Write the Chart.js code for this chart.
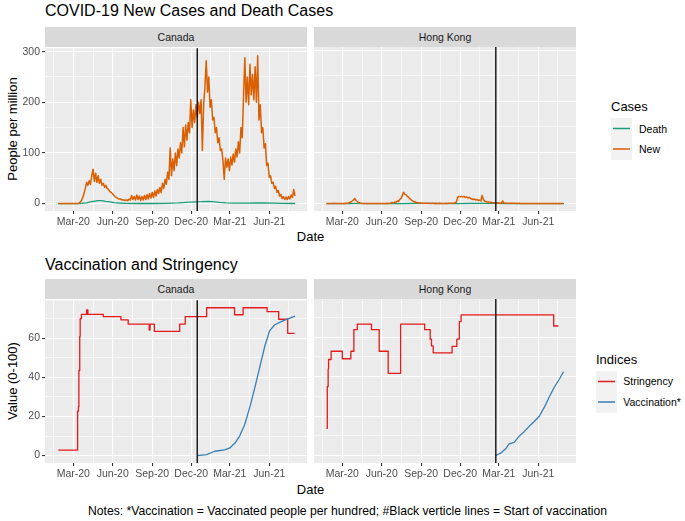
<!DOCTYPE html>
<html><head><meta charset="utf-8">
<script src="https://cdn.jsdelivr.net/npm/chart.js@4.4.1/dist/chart.umd.min.js"></script>
<style>
html,body{margin:0;padding:0;background:#fff;}
#page{position:relative;width:685px;height:521px;overflow:hidden;font-family:'Liberation Sans',Arial,sans-serif;color:#000;}
canvas{position:absolute;}
.t{position:absolute;white-space:nowrap;line-height:1;}
.strip{position:absolute;background:#D9D9D9;text-align:center;font-size:10.5px;line-height:20px;height:20px;color:#1A1A1A;}
.keysvg{position:absolute;}
.rot{position:absolute;white-space:nowrap;line-height:1;font-size:13px;transform:translate(-50%,-50%) rotate(-90deg);}
</style></head>
<body><div id="page">
<div class="t" style="left:45px;top:3.2px;font-size:16px;">COVID-19 New Cases and Death Cases</div>
<div class="t" style="left:45px;top:256.5px;font-size:16px;">Vaccination and Stringency</div>
<div class="strip" style="left:45px;top:27px;width:262px;">Canada</div>
<div class="strip" style="left:314px;top:27px;width:262px;">Hong Kong</div>
<div class="strip" style="left:45px;top:279px;width:262px;">Canada</div>
<div class="strip" style="left:314px;top:279px;width:262px;">Hong Kong</div>
<div class="rot" style="left:11.5px;top:129px;">People per million</div>
<div class="rot" style="left:11.5px;top:381px;">Value (0-100)</div>
<div class="t" style="left:310.5px;top:230px;font-size:13px;transform:translateX(-50%);">Date</div>
<div class="t" style="left:310.5px;top:483px;font-size:13px;transform:translateX(-50%);">Date</div>
<div class="t" style="left:347.5px;top:505.2px;font-size:12.2px;transform:translateX(-50%);">Notes: *Vaccination = Vaccinated people per hundred; #Black verticle lines = Start of vaccination</div>

<div class="t" style="left:611px;top:100px;font-size:13px;">Cases</div>
<svg class="keysvg" style="left:611px;top:118px;" width="21" height="42" viewBox="0 0 21 42">
  <rect x="0" y="0" width="21" height="42" fill="#F2F2F2"/>
  <line x1="2" y1="10.5" x2="19" y2="10.5" stroke="#1B9E77" stroke-width="1.5"/>
  <line x1="2" y1="31" x2="19" y2="31" stroke="#D95F02" stroke-width="1.5"/>
</svg>
<div class="t" style="left:639px;top:123.8px;font-size:10.5px;">Death</div>
<div class="t" style="left:639px;top:144.4px;font-size:10.5px;">New</div>

<div class="t" style="left:596px;top:352.5px;font-size:13px;">Indices</div>
<svg class="keysvg" style="left:596px;top:371px;" width="21" height="42" viewBox="0 0 21 42">
  <rect x="0" y="0" width="21" height="42" fill="#F2F2F2"/>
  <line x1="2" y1="10.5" x2="19" y2="10.5" stroke="#E41A1C" stroke-width="1.5"/>
  <line x1="2" y1="31" x2="19" y2="31" stroke="#377EB8" stroke-width="1.5"/>
</svg>
<div class="t" style="left:623.3px;top:376.1px;font-size:10.5px;">Stringency</div>
<div class="t" style="left:623.3px;top:396.8px;font-size:10.5px;">Vaccination*</div>

<canvas id="c1" width="310" height="195" style="left:0px;top:40px;"></canvas>
<canvas id="c2" width="265" height="195" style="left:314px;top:40px;"></canvas>
<canvas id="c3" width="310" height="195" style="left:0px;top:292px;"></canvas>
<canvas id="c4" width="265" height="195" style="left:314px;top:292px;"></canvas>
</div>
<script>
// ---------- DATA ----------
const xMin = '2019-12-26', xMax = '2021-08-28';
const xTickDates  = ['2020-03-01','2020-06-01','2020-09-01','2020-12-01','2021-03-01','2021-06-01'];
const xTickLabels = ['Mar-20','Jun-20','Sep-20','Dec-20','Mar-21','Jun-21'];
const xMinorDates = ['2020-01-15','2020-04-16','2020-07-17','2020-10-16','2021-01-15','2021-04-16','2021-07-17'];
const caseTicks = [0,100,200,300], caseMinor = [50,150,250];
const idxTicks = [0,20,40,60], idxMinor = [10,30,50,70];

const vaccStartCanada = '2020-12-15';
const vaccStartHK = '2021-02-22';

// new cases per million (sampled every 3 days)
const newStep = 3;
const caNewStart = '2020-01-26';
const caNew = [
0,0,0,0,0,0,0,0,0,0,
0,0,0,0,0,0,1,3,6,12,
20,30,42,36,45,38,55,68,44,60,
42,55,40,48,36,40,32,36,30,28,
24,22,20,17,14,12,11,9,9,8,
7,7,6,7,6,9,7,16,8,14,
7,17,8,15,6,14,7,16,8,18,
9,20,11,22,12,25,15,28,20,32,
22,40,30,48,38,62,48,110,55,88,
65,100,75,108,90,120,100,150,112,155,
125,160,140,205,150,185,160,195,170,200,
178,205,105,195,230,282,220,250,190,205,
165,170,140,150,120,130,105,108,85,48,
90,72,88,65,92,76,98,82,108,92,
122,100,150,130,212,288,200,250,195,275,
215,255,205,270,200,292,165,195,140,150,
110,118,75,80,52,55,40,42,30,34,
22,26,15,18,10,14,8,13,8,14,
9,17,12,28,15];
const hkNewStart = '2020-01-24';
const hkNew = [
0,0,0,0.3,0,0.3,0.5,0.3,0,0.3,0,0.2,0.3,0,0.3,0.5,
0.5,1,2,
3,5,7,10,6,4,2,1,
0.5,0.3,0.2,0.3,0.1,0.2,0,0.2,0.1,0,0.2,0,0.1,0,0,0.2,0,0.1,0,0.2,0.5,0.3,0.8,1,
2,1,3,2,5,4,8,10,16,22,18,17,14,12,9,7,5,4,3,2,1.5,1,
1,0.8,0.5,0.8,0.5,0.6,0.4,0.5,0.3,0.5,0.4,0.3,0.5,0.3,0.2,0.4,0.3,0.2,0.3,0.2,0.4,0.3,0.5,0.4,0.6,0.8,1,1.5,
3,12,14,13,14,13,14,12,13,11,12,10,9,8,9,7,8,6,7,5,16,8,5,4,3,3,2,2.5,1.5,1.5,1,1.5,1,1,0.5,1,
5,1,0.8,0.5,0.8,0.5,0.6,0.4,0.8,0.5,0.6,0.3,0.5,0.4,
0.2,0.3,0.1,0.2,0,0.1,0.2,0,0.1,0,0.1,0,0,0.1,0,0.1,0,0,0.1,0,0,0.1,0,0,0.1,0,0,0,0.1,0,0,0.1,0,0];

const caDeathDates = ['2020-01-26','2020-03-10','2020-03-20','2020-04-01','2020-04-10','2020-04-20','2020-04-28','2020-05-06','2020-05-15','2020-05-25','2020-06-05','2020-06-15','2020-07-01','2020-08-01','2020-09-01','2020-10-01','2020-11-01','2020-11-20','2020-12-10','2020-12-25','2021-01-10','2021-01-20','2021-02-05','2021-02-20','2021-03-10','2021-04-10','2021-05-01','2021-05-20','2021-06-10','2021-07-01','2021-07-31'];
const caDeath = [0,0,0.3,1.5,3.5,5,6,6,4.5,3.5,2,1.2,0.6,0.2,0.2,0.5,1.5,2.5,3.5,3.8,4.5,4,2.5,1.5,1,1,1.3,1.2,0.8,0.4,0.2];
const hkDeathDates = ['2020-01-24','2020-03-15','2020-04-01','2020-05-01','2020-07-20','2020-08-10','2020-09-05','2020-11-25','2020-12-20','2021-01-20','2021-02-25','2021-03-20','2021-07-31'];
const hkDeath = [0,0,0.2,0,0,0.5,0.3,0,0.3,0.4,0.2,0,0];

const caStrDates = ['2020-01-26','2020-03-11','2020-03-13','2020-03-14','2020-03-16','2020-03-17','2020-03-20','2020-04-01','2020-04-04','2020-05-10','2020-06-20','2020-07-07','2020-08-25','2020-08-27','2020-09-06','2020-11-04','2020-11-17','2021-01-06','2021-03-12','2021-04-01','2021-05-27','2021-06-23','2021-07-14','2021-07-30'];
const caStr = [2.78,22.7,25,43.5,61,70,72.2,74.5,72.2,71.1,69.4,67.2,64.2,67.2,63.5,67.2,71.1,75.6,72,75.6,73.6,69.7,62.5,62.5];
const hkStrDates = ['2020-01-24','2020-01-26','2020-01-28','2020-01-29','2020-02-04','2020-03-01','2020-03-21','2020-03-28','2020-04-05','2020-05-08','2020-05-26','2020-06-16','2020-07-15','2020-09-09','2020-09-22','2020-09-25','2020-09-29','2020-11-12','2020-11-23','2020-11-29','2020-12-03','2021-07-07','2021-07-18'];
const hkStr = [13.8,35,44,48.7,52.9,49.1,52.9,63.9,66.7,63.9,52.9,41.7,66.7,63.9,59,55.6,52.1,55.4,59,67.9,71.3,65.7,65.7];

const caVacDates = ['2020-12-15','2021-01-06','2021-01-25','2021-02-17','2021-03-01','2021-03-13','2021-03-24','2021-04-05','2021-04-17','2021-04-28','2021-05-10','2021-05-22','2021-06-02','2021-06-14','2021-06-30','2021-07-15','2021-07-31'];
const caVac = [0,0.5,2.2,2.9,3.9,6.4,10,16,25,34.5,45.4,56.3,63.9,66.9,68.6,69.9,71.3];
const hkVacDates = ['2021-02-22','2021-03-06','2021-03-17','2021-03-25','2021-04-06','2021-04-17','2021-04-29','2021-05-11','2021-05-22','2021-06-03','2021-06-15','2021-06-26','2021-07-08','2021-07-20','2021-07-30'];
const hkVac = [0,1.3,3.4,5.9,6.7,9.7,12.1,14.8,17.1,19.8,24.4,29.4,34.5,38.7,42.5];

// ---------- HELPERS ----------
const DAY0 = Date.UTC(2020,2,1);
function dayOf(s){ const p=s.split('-').map(Number); return (Date.UTC(p[0],p[1]-1,p[2])-DAY0)/86400000; }
function stepSeries(start, step, vals){ const d0=dayOf(start); return vals.map((v,i)=>({x:d0+i*step, y:v})); }
function pairSeries(dates, vals){ return dates.map((d,i)=>({x:dayOf(d), y:vals[i]})); }

Chart.defaults.font.family = "'Liberation Sans', Arial, sans-serif";
Chart.defaults.font.size = 10.5;

const panelBg = { id:'panelBg', beforeDraw(chart){ const a=chart.chartArea, ctx=chart.ctx; ctx.save(); ctx.fillStyle='#EBEBEB'; ctx.fillRect(a.left,a.top,a.right-a.left,a.bottom-a.top); ctx.restore(); } };
const vline = { id:'vline', afterDatasetsDraw(chart, args, opts){ if(!opts || !opts.date) return; const a=chart.chartArea, ctx=chart.ctx; const x=chart.scales.x.getPixelForValue(dayOf(opts.date)); ctx.save(); ctx.strokeStyle='#000'; ctx.lineWidth=1.3; ctx.beginPath(); ctx.moveTo(x,a.top); ctx.lineTo(x,a.bottom); ctx.stroke(); ctx.restore(); } };

function xScale(){
  return { type:'linear', min:dayOf(xMin), max:dayOf(xMax),
    afterBuildTicks(s){ s.ticks = xTickDates.map(d=>({value:dayOf(d)})).concat(xMinorDates.map(d=>({value:dayOf(d), minor:true}))); },
    afterFit(s){ s.height = 24; },
    ticks:{ autoSkip:false, maxRotation:0, minRotation:0, padding:2, color:'#4D4D4D', font:{size:10.5},
      callback(v){ const i = xTickDates.findIndex(d=>dayOf(d)===v); return i>=0 ? xTickLabels[i] : ''; } },
    grid:{ color:'#FFFFFF', lineWidth:c=>(c.tick && c.tick.minor)?0.6:1.1,
      tickColor:c=>(c.tick && c.tick.minor)?'rgba(0,0,0,0)':'#333333', tickLength:3, drawTicks:true },
    border:{display:false} };
}
function yScale(min, max, majors, minors, showLabels){
  return { type:'linear', min:min, max:max,
    afterBuildTicks(s){ s.ticks = majors.map(v=>({value:v})).concat(minors.map(v=>({value:v, minor:true}))); },
    afterFit(s){ s.width = showLabels ? 45 : 0; },
    ticks:{ display:showLabels, autoSkip:false, padding:2, color:'#4D4D4D', font:{size:10.5},
      callback(v){ return majors.indexOf(v)>=0 ? String(v) : ''; } },
    grid:{ color:'#FFFFFF', lineWidth:c=>(c.tick && c.tick.minor)?0.6:1.1,
      tickColor:c=>(c.tick && c.tick.minor)?'rgba(0,0,0,0)':'#333333', tickLength:showLabels?3:0, drawTicks:showLabels },
    border:{display:false} };
}
function ds(label, data, color, stepped, width){
  return { label, data, borderColor:color, backgroundColor:color, borderWidth:width||1.3, pointRadius:0, tension:0, fill:false, stepped:!!stepped, borderJoinStyle:'round' };
}
function make(id, datasets, yMin, yMax, majors, minors, showLabels, vdate){
  new Chart(document.getElementById(id), {
    type:'line',
    data:{ datasets },
    options:{ responsive:false, animation:false, devicePixelRatio:1, parsing:true,
      layout:{ padding:{left:0, right:3, top:7, bottom:0}, autoPadding:false },
      plugins:{ legend:{display:false}, tooltip:{enabled:false}, vline:{date:vdate} },
      scales:{ x:xScale(), y:yScale(yMin, yMax, majors, minors, showLabels) } },
    plugins:[panelBg, vline]
  });
}

make('c1', [ ds('New', stepSeries(caNewStart,newStep,caNew), '#D95F02', false, 1.5), ds('Death', pairSeries(caDeathDates,caDeath), '#1B9E77') ],
  -14.6, 306.6, caseTicks, caseMinor, true, vaccStartCanada);
make('c2', [ ds('New', stepSeries(hkNewStart,newStep,hkNew), '#D95F02', false, 1.5), ds('Death', pairSeries(hkDeathDates,hkDeath), '#1B9E77') ],
  -14.6, 306.6, caseTicks, caseMinor, false, vaccStartHK);
make('c3', [ ds('Vaccination*', pairSeries(caVacDates,caVac), '#377EB8'), ds('Stringency', pairSeries(caStrDates,caStr), '#E41A1C', true) ],
  -3.8, 79.4, idxTicks, idxMinor, true, vaccStartCanada);
make('c4', [ ds('Vaccination*', pairSeries(hkVacDates,hkVac), '#377EB8'), ds('Stringency', pairSeries(hkStrDates,hkStr), '#E41A1C', true) ],
  -3.8, 79.4, idxTicks, idxMinor, false, vaccStartHK);
</script>
</body></html>
